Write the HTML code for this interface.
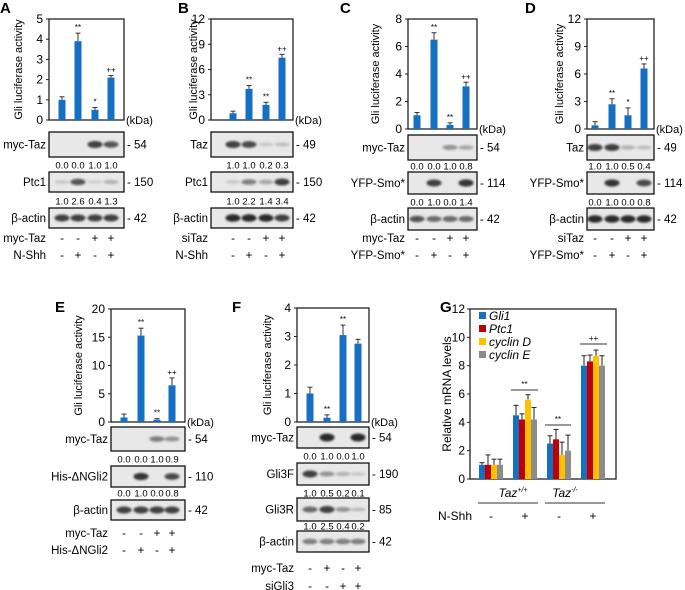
<!DOCTYPE html>
<html><head><meta charset="utf-8"><style>
body{margin:0;background:#fff}
svg{display:block;font-family:"Liberation Sans",Arial,sans-serif}
</style></head><body>
<svg id="fig" width="685" height="590" viewBox="0 0 685 590" xmlns="http://www.w3.org/2000/svg">
<defs><filter id="bl" x="-30%" y="-80%" width="160%" height="260%"><feGaussianBlur stdDeviation="1"/></filter></defs>
</svg>
<script>
// ---- data ----
const aVals=[1.0,3.9,0.5,2.1], aErr=[0.15,0.4,0.12,0.1], aSig=["","**","*","++"];
const bVals=[0.8,3.7,1.8,7.4], bErr=[0.25,0.4,0.3,0.4], bSig=["","**","**","++"];
const cVals=[1.0,6.5,0.3,3.1], cErr=[0.2,0.5,0.15,0.3], cSig=["","**","**","++"];
const dVals=[0.4,2.7,1.5,6.6], dErr=[0.4,0.6,0.8,0.5], dSig=["","**","*","++"];
const eVals=[0.8,15.3,0.4,6.5], eErr=[0.6,1.3,0.2,1.3], eSig=["","**","**","++"];
const fVals=[1.0,0.15,3.05,2.75], fErr=[0.22,0.1,0.35,0.15], fSig=["","**","**",""];
const aTicks=[0,1,2,3,4,5], bTicks=[0,3,6,9,12], cTicks=[0,2,4,6,8], dTicks=[0,3,6,9,12], eTicks=[0,5,10,15,20], fTicks=[0,1,2,3,4];
const gSeries=["Gli1","Ptc1","cyclin D","cyclin E"];
const gGroups=["Taz+/+ -","Taz+/+ +","Taz-/- -","Taz-/- +"];
const gGli1=[1.0,4.5,2.5,8.0], gPtc1=[1.0,4.2,2.8,8.3], gCycD=[1.0,5.6,1.7,8.7], gCycE=[1.0,4.2,2.0,8.0];
const gGli1Err=[0.15,0.7,0.55,0.7], gPtc1Err=[0.7,0.4,0.7,0.45], gCycDErr=[0.4,0.35,0.9,0.4], gCycEErr=[0.4,0.85,1.1,0.7];
const gTicks=[0,2,4,6,8,10,12];

const S=document.getElementById('fig');
const NS='http://www.w3.org/2000/svg';
function mk(tag,at,txt,name,par){const e=document.createElementNS(NS,tag);for(const k in at)e.setAttribute(k,at[k]);if(txt!==undefined&&txt!==null)e.textContent=txt;


(par||S).appendChild(e);return e;}
const BLUE='#1570c4';

function barChart(p){
  const g=mk('g',{},null,p.id+'-chart');
  const ymax=p.ticks[p.ticks.length-1];
  const Y=v=>p.y1-(v/ymax)*(p.y1-p.y0);
  mk('rect',{x:p.x0,y:p.y0,width:p.x1-p.x0,height:p.y1-p.y0,fill:'none',stroke:'#222','stroke-width':1.3},null,p.id+'-frame',g);
  p.ticks.forEach(t=>{mk('line',{x1:p.x0-3,x2:p.x0,y1:Y(t),y2:Y(t),stroke:'#222'},null,p.id+'-tick',g);
    mk('text',{x:p.x0-6,y:Y(t)+4,'text-anchor':'end','font-size':12},String(t),p.id+'-tick-label',g);});
  mk('text',{transform:`translate(${p.lx},${(p.y0+p.y1)/2}) rotate(-90)`,'text-anchor':'middle','font-size':11},'Gli luciferase activity',p.id+'-y-axis-title',g);
  p.vals.forEach((v,i)=>{const cx=p.lanes[i];const top=Y(v+p.err[i]);
    mk('line',{x1:cx,x2:cx,y1:Y(v),y2:top,stroke:'#333','stroke-width':1},null,p.id+'-error-bar',g);
    mk('line',{x1:cx-2.5,x2:cx+2.5,y1:top,y2:top,stroke:'#333','stroke-width':1},null,p.id+'-error-cap',g);
    mk('rect',{x:cx-3.5,y:Y(v),width:7,height:p.y1-Y(v),fill:BLUE},null,p.id+'-bar-'+(i+1),g);
    if(p.sig[i])mk('text',{x:cx,y:top-3,'text-anchor':'middle','font-size':8},p.sig[i],p.id+'-significance',g);});
  mk('text',{x:p.x1+2,y:p.y1+4,'font-size':11},'(kDa)',p.id+'-kda-label',g);
}
function blot(p,lanes,x0,x1,lx){
  const g=mk('g',{},null,p.name);
  mk('rect',{x:x0,y:p.y0,width:x1-x0,height:p.y1-p.y0,fill:'#e8e8e8',stroke:'#111','stroke-width':1.3},null,p.name+'-box',g);
  const cy=(p.y0+p.y1)/2;
  p.b.forEach((v,i)=>{if(v>0)mk('ellipse',{cx:lanes[i],cy:cy,rx:7.5,ry:1.5+v*2.5,fill:'#151515',opacity:Math.min(0.9,v),filter:'url(#bl)'},null,p.name+'-band',g);});
  mk('text',{x:lx,y:cy+4,'text-anchor':'end','font-size':11.5},p.label,p.name+'-label',g);
  mk('text',{x:x1+3,y:cy+4,'font-size':11.5},'- '+p.kda,p.name+'-marker',g);
}
function nums(vals,lanes,y,name){vals.forEach((v,i)=>mk('text',{x:lanes[i],y:y+3.5,'text-anchor':'middle','font-size':9.5},v,name));}
function conds(rows,lanes,lx){rows.forEach(r=>{mk('text',{x:lx,y:r.y+4,'text-anchor':'end','font-size':11.5},r.label,'condition-label');
  r.s.forEach((c,i)=>mk('text',{x:lanes[i],y:r.y+4,'text-anchor':'middle','font-size':11.5},c,'condition-sign'));});}
function letter(t,x,y){mk('text',{x:x,y:y,'font-size':15,'font-weight':'bold'},t,'panel-label-'+t.toLowerCase());}
const mm=["-","-","+","+"], pm=["-","+","-","+"];

// A
let L=[62,78,95,111];
letter('A',0,13);
barChart({id:'a',x0:49,x1:124,y0:19,y1:120,lx:22,ticks:aTicks,vals:aVals,err:aErr,sig:aSig,lanes:L});
blot({name:'a-myc-taz-blot',y0:132,y1:157,label:'myc-Taz',kda:'54',b:[0,0,0.8,0.7]},L,49,124,46);
nums(["0.0","0.0","1.0","1.0"],L,165,'a-quant');
blot({name:'a-ptc1-blot',y0:172,y1:192,label:'Ptc1',kda:'150',b:[0.15,0.7,0.12,0.25]},L,49,124,46);
nums(["1.0","2.6","0.4","1.3"],L,201,'a-quant');
blot({name:'a-actin-blot',y0:208,y1:228,label:'β-actin',kda:'42',b:[0.8,0.8,0.8,0.8]},L,49,124,46);
conds([{y:238,label:'myc-Taz',s:mm},{y:255,label:'N-Shh',s:pm}],L,46);
// B
L=[233,249,266,282];
letter('B',178,13);
barChart({id:'b',x0:211,x1:293,y0:19,y1:120,lx:197,ticks:bTicks,vals:bVals,err:bErr,sig:bSig,lanes:L});
blot({name:'b-taz-blot',y0:132,y1:157,label:'Taz',kda:'49',b:[0.8,0.75,0.15,0.2]},L,211,293,208);
nums(["1.0","1.0","0.2","0.3"],L,165,'b-quant');
blot({name:'b-ptc1-blot',y0:172,y1:192,label:'Ptc1',kda:'150',b:[0.15,0.5,0.3,0.8]},L,211,293,208);
nums(["1.0","2.2","1.4","3.4"],L,201,'b-quant');
blot({name:'b-actin-blot',y0:208,y1:228,label:'β-actin',kda:'42',b:[0.9,0.9,0.9,0.8]},L,211,293,208);
conds([{y:238,label:'siTaz',s:mm},{y:255,label:'N-Shh',s:pm}],L,208);
// C
L=[417,434,450,466];
letter('C',340,13);
barChart({id:'c',x0:408,x1:477,y0:19,y1:129,lx:379,ticks:cTicks,vals:cVals,err:cErr,sig:cSig,lanes:L});
blot({name:'c-myc-taz-blot',y0:135,y1:160,label:'myc-Taz',kda:'54',b:[0,0,0.4,0.3]},L,408,477,405);
nums(["0.0","0.0","1.0","0.8"],L,166,'c-quant');
blot({name:'c-yfp-smo-blot',y0:172,y1:194,label:'YFP-Smo*',kda:'114',b:[0,0.8,0,0.85]},L,408,477,405);
nums(["0.0","1.0","0.0","1.4"],L,202,'c-quant');
blot({name:'c-actin-blot',y0:208,y1:230,label:'β-actin',kda:'42',b:[0.7,0.6,0.6,0.6]},L,408,477,405);
conds([{y:238,label:'myc-Taz',s:mm},{y:255,label:'YFP-Smo*',s:pm}],L,405);
// D
L=[595,612,628,644];
letter('D',525,13);
barChart({id:'d',x0:587,x1:654,y0:19,y1:129,lx:563,ticks:dTicks,vals:dVals,err:dErr,sig:dSig,lanes:L});
blot({name:'d-taz-blot',y0:135,y1:160,label:'Taz',kda:'49',b:[0.8,0.8,0.25,0.2]},L,587,654,584);
nums(["1.0","1.0","0.5","0.4"],L,166,'d-quant');
blot({name:'d-yfp-smo-blot',y0:172,y1:194,label:'YFP-Smo*',kda:'114',b:[0,0.85,0,0.75]},L,587,654,584);
nums(["0.0","1.0","0.0","0.8"],L,202,'d-quant');
blot({name:'d-actin-blot',y0:208,y1:230,label:'β-actin',kda:'42',b:[0.9,0.9,0.9,0.9]},L,587,654,584);
conds([{y:238,label:'siTaz',s:mm},{y:255,label:'YFP-Smo*',s:pm}],L,584);
// E
L=[124,141,157,172];
letter('E',55,312);
barChart({id:'e',x0:111,x1:185,y0:309,y1:422,lx:82,ticks:eTicks,vals:eVals,err:eErr,sig:eSig,lanes:L});
blot({name:'e-myc-taz-blot',y0:427,y1:451,label:'myc-Taz',kda:'54',b:[0,0,0.5,0.4]},L,111,185,108);
nums(["0.0","0.0","1.0","0.9"],L,459,'e-quant');
blot({name:'e-gli2-blot',y0:466,y1:487,label:'His-ΔNGli2',kda:'110',b:[0,0.85,0,0.75]},L,111,185,108);
nums(["0.0","1.0","0.0","0.8"],L,493,'e-quant');
blot({name:'e-actin-blot',y0:500,y1:520,label:'β-actin',kda:'42',b:[0.8,0.8,0.8,0.8]},L,111,185,108);
conds([{y:533,label:'myc-Taz',s:mm},{y:550,label:'His-ΔNGli2',s:pm}],L,108);
// F
L=[310,327,343,358];
letter('F',232,312);
barChart({id:'f',x0:297,x1:369,y0:308,y1:422,lx:271,ticks:fTicks,vals:fVals,err:fErr,sig:fSig,lanes:L});
blot({name:'f-myc-taz-blot',y0:427,y1:448,label:'myc-Taz',kda:'54',b:[0,1,0,1]},L,297,369,294);
nums(["0.0","1.0","0.0","1.0"],L,456,'f-quant');
blot({name:'f-gli3f-blot',y0:463,y1:485,label:'Gli3F',kda:'190',b:[0.8,0.4,0.25,0.15]},L,297,369,294);
nums(["1.0","0.5","0.2","0.1"],L,493,'f-quant');
blot({name:'f-gli3r-blot',y0:498,y1:521,label:'Gli3R',kda:'85',b:[0.6,0.8,0.4,0.2]},L,297,369,294);
nums(["1.0","2.5","0.4","0.2"],L,526,'f-quant');
blot({name:'f-actin-blot',y0:531,y1:552,label:'β-actin',kda:'42',b:[0.5,0.5,0.5,0.5]},L,297,369,294);
conds([{y:568,label:'myc-Taz',s:pm},{y:586,label:'siGli3',s:mm}],L,294);
// G
(function(){
  const x0=470,x1=616,y0=309,y1=479,ymax=12;
  const Y=v=>y1-(v/ymax)*(y1-y0);
  const g=mk('g',{},null,'g-chart');
  letter('G',440,312);
  mk('rect',{x:x0,y:y0,width:x1-x0,height:y1-y0,fill:'none',stroke:'#222','stroke-width':1.3},null,'g-frame',g);
  gTicks.forEach(t=>{mk('line',{x1:x0-3,x2:x0,y1:Y(t),y2:Y(t),stroke:'#222'},null,'g-tick',g);
    mk('text',{x:x0-5,y:Y(t)+4,'text-anchor':'end','font-size':12},String(t),'g-tick-label',g);});
  mk('text',{transform:`translate(451,${(y0+y1)/2}) rotate(-90)`,'text-anchor':'middle','font-size':12},'Relative mRNA levels','g-y-axis-title',g);
  const series=[gGli1,gPtc1,gCycD,gCycE], errs=[gGli1Err,gPtc1Err,gCycDErr,gCycEErr];
  const cols=['#1570c4','#c00000','#ffc000','#8c8c8c'];
  const gc=[491,525,559,593];
  series.forEach((s,si)=>s.forEach((v,gi)=>{const cx=gc[gi]+(si-1.5)*6;const top=Y(v+errs[si][gi]);
    mk('line',{x1:cx,x2:cx,y1:Y(v),y2:top,stroke:'#222'},null,'g-error-bar',g);
    mk('line',{x1:cx-2.5,x2:cx+2.5,y1:top,y2:top,stroke:'#222'},null,'g-error-cap',g);
    mk('rect',{x:cx-3,y:Y(v),width:6,height:y1-Y(v),fill:cols[si]},null,'g-bar-'+gSeries[si].replace(' ','-').toLowerCase(),g);}));
  gSeries.forEach((n,i)=>{mk('rect',{x:479,y:312+i*13,width:7,height:7,fill:cols[i]},null,'g-legend-swatch',g);
    mk('text',{x:489,y:320+i*13,'font-size':12,'font-style':'italic'},n,'g-legend-entry',g);});
  [[511,538,390,'**'],[545,571,425,'**'],[580,607,344,'++']].forEach(b=>{mk('line',{x1:b[0],x2:b[1],y1:b[2],y2:b[2],stroke:'#333'},null,'g-bracket',g);
    mk('text',{x:(b[0]+b[1])/2,y:b[2]-3,'text-anchor':'middle','font-size':8},b[3],'g-significance',g);});
  const t1=mk('text',{x:513,y:497,'text-anchor':'middle','font-size':12,'font-style':'italic'},null,'g-taz-wt-label',g);
  t1.innerHTML='Taz<tspan font-size="7" dy="-5">+/+</tspan>';
  const t2=mk('text',{x:565,y:497,'text-anchor':'middle','font-size':12,'font-style':'italic'},null,'g-taz-ko-label',g);
  t2.innerHTML='Taz<tspan font-size="7" dy="-5">-/-</tspan>';
  mk('line',{x1:478,x2:538,y1:503,y2:503,stroke:'#333'},null,'g-group-line',g);
  mk('line',{x1:545,x2:605,y1:503,y2:503,stroke:'#333'},null,'g-group-line',g);
  mk('text',{x:472,y:520,'text-anchor':'end','font-size':12},'N-Shh','g-condition-label',g);
  pm.forEach((c,i)=>mk('text',{x:gc[i],y:520,'text-anchor':'middle','font-size':12},c,'g-condition-sign',g));
})();
</script>
</body></html>
